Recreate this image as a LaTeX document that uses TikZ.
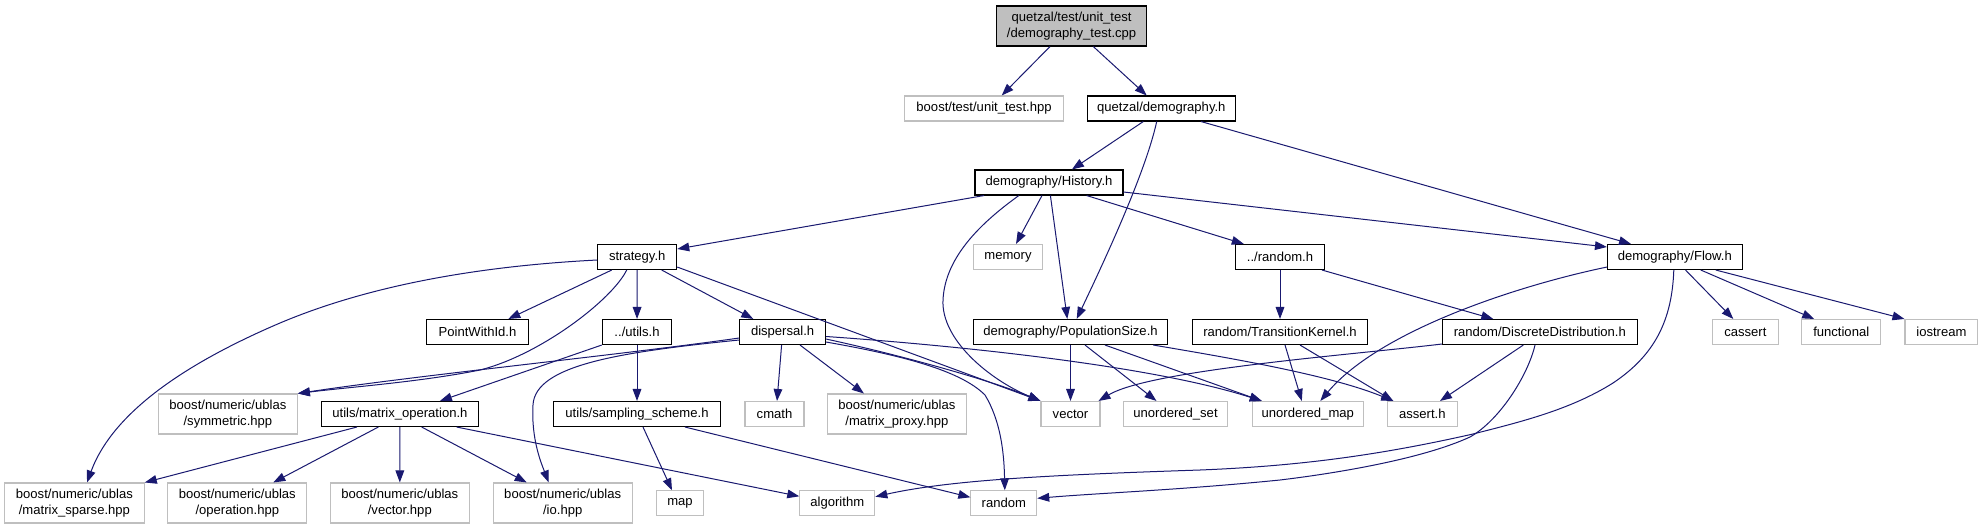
\documentclass[tikz,border=0pt]{standalone}
\usepackage{fontspec}
\setmainfont{Liberation Sans}
\usetikzlibrary{arrows.meta,calc}
\definecolor{edgeblue}{HTML}{191970}
\definecolor{extgray}{HTML}{BFBFBF}
\begin{document}
\begin{tikzpicture}[x=0.75pt,y=-0.75pt,
  base/.style={rectangle, inner sep=0pt, minimum height=18.75pt, align=center,
    font=\fontsize{9.8pt}{11.5pt}\selectfont, line width=0.8pt},
  int/.style={base, draw=black, fill=white},
  ext/.style={base, draw=extgray, fill=white},
  two/.style={minimum height=30pt},
  bw/.style={minimum width=#1*0.75pt},
  e/.style={draw=edgeblue, line width=0.75pt, -{Triangle[length=9pt,width=6.5pt]}}]
\fill[white] (0,0) rectangle (1983,529);
\useasboundingbox (0,0) rectangle (1983,529);

% nodes
\node[int, two, bw=150.3, fill=extgray] (root) at (1071.6,26) {quetzal/test/unit\_test\\/demography\_test.cpp};
\node[ext, bw=159] (unit) at (984,108.5) {boost/test/unit\_test.hpp};
\node[int, bw=148] (qdem) at (1161.3,108.5) {quetzal/demography.h};
\node[int, bw=148] (hist) at (1049,182.5) {demography/History.h};
\node[int, bw=79] (strat) at (637.2,257) {strategy.h};
\node[ext, bw=69.4] (mem) at (1008,257) {memory};
\node[int, bw=88.4] (rnd) at (1280,257) {../random.h};
\node[int, bw=134.6] (flow) at (1674.8,257) {demography/Flow.h};
\node[int, bw=101.6] (pwid) at (477.5,332) {PointWithId.h};
\node[int, bw=69.5] (utils) at (637,332) {../utils.h};
\node[int, bw=85.7] (disp) at (782.6,332) {dispersal.h};
\node[int, bw=194.4] (pops) at (1070.5,332) {demography/PopulationSize.h};
\node[int, bw=174.6] (tk) at (1280,332) {random/TransitionKernel.h};
\node[int, bw=195] (dd) at (1539.8,332) {random/DiscreteDistribution.h};
\node[ext, bw=66] (cassert) at (1745.3,332) {cassert};
\node[ext, bw=78.8] (functional) at (1841.2,332) {functional};
\node[ext, bw=72.8] (iostream) at (1941.4,332) {iostream};
\node[ext, two, bw=138.8] (sym) at (227.9,414) {boost/numeric/ublas\\/symmetric.hpp};
\node[int, bw=157.7] (mop) at (399.9,414) {utils/matrix\_operation.h};
\node[int, bw=167.4] (samp) at (637,414) {utils/sampling\_scheme.h};
\node[ext, bw=59] (cmath) at (774.5,414) {cmath};
\node[ext, two, bw=138.3] (mproxy) at (896.9,414) {boost/numeric/ublas\\/matrix\_proxy.hpp};
\node[ext, bw=59] (vector) at (1070.5,414) {vector};
\node[ext, bw=104.4] (uset) at (1175.5,414) {unordered\_set};
\node[ext, bw=111] (umap) at (1307.8,414) {unordered\_map};
\node[ext, bw=70] (asserth) at (1422.3,414) {assert.h};
\node[ext, two, bw=139.7] (msparse) at (74.4,503) {boost/numeric/ublas\\/matrix\_sparse.hpp};
\node[ext, two, bw=138.8] (oper) at (237.3,503) {boost/numeric/ublas\\/operation.hpp};
\node[ext, two, bw=138.8] (vecthpp) at (399.8,503) {boost/numeric/ublas\\/vector.hpp};
\node[ext, two, bw=138.8] (io) at (562.7,503) {boost/numeric/ublas\\/io.hpp};
\node[ext, bw=46.5] (map) at (680,503.3) {map};
\node[ext, bw=75] (algo) at (837.3,503.3) {algorithm};
\node[ext, bw=65.8] (random) at (1003.8,503.3) {random};

% edges from root / demography.h
\draw[e] ($(root.south)+(-21.6,0)$) -- ($(unit.north)+(17.7,0)$);
\draw[e] ($(root.south)+(21.7,0)$) -- ($(qdem.north)+(-14.6,0)$);
\draw[e] ($(qdem.south)+(-18,0)$) -- ($(hist.north)+(22.9,0)$);
\draw[e] ($(qdem.south)+(-4.6,0)$) .. controls (1145,175) and (1100,270) .. ($(pops.north)+(6.2,0)$);
\draw[e] ($(qdem.south)+(39.7,0)$) -- ($(flow.north)+(-43.8,0)$);

% History.h
\draw[e] ($(hist.south)+(-65,0)$) -- ($(strat.east)+(0,-8)$);
\draw[e] ($(hist.south)+(-30.2,0)$) .. controls (985,220) and (945,255) .. (943,300)
   .. controls (941,340) and (990,380) .. (vector.north west);
\draw[e] ($(hist.south)+(-7,0)$) -- ($(mem.north)+(8,0)$);
\draw[e] ($(hist.south)+(1.4,0)$) -- ($(pops.north)+(-3.2,0)$);
\draw[e] ($(hist.south)+(37.6,0)$) -- ($(rnd.north)+(-36.2,0)$);
\draw[e] ($(hist.east)+(0,9.5)$) -- ($(flow.west)+(0,-10)$);

% ../random.h
\draw[e] (rnd) -- (tk);
\draw[e] ($(rnd.south)+(42,0)$) -- ($(dd.north)+(-46.5,0)$);

% Flow.h
\draw[e] ($(flow.south west)+(0,-3)$) .. controls (1520,285) and (1380,330) .. ($(umap.north)+(12.5,0)$);
\draw[e] ($(flow.south)+(-1,0)$) .. controls (1672,320) and (1655,355) .. (1613,383)
   .. controls (1570,410) and (1520,422) .. (1473,434)
   .. controls (1380,455) and (1300,466) .. (1200,470)
   .. controls (1050,475) and (950,480) .. ($(algo.east)+(0,-6.6)$);
\draw[e] ($(flow.south)+(10.7,0)$) -- ($(cassert.north)+(-12,0)$);
\draw[e] ($(flow.south)+(26,0)$) -- ($(functional.north)+(-27,0)$);
\draw[e] ($(flow.south)+(41,0)$) -- (iostream.north west);

% strategy.h
\draw[e] ($(strat.west)+(0,3)$) .. controls (480,266) and (370,285) .. (280,323)
   .. controls (170,370) and (110,420) .. ($(msparse.north)+(12.6,0)$);
\draw[e] ($(strat.south)+(-25.5,0)$) -- ($(pwid.north)+(30.8,0)$);
\draw[e] ($(strat.south)+(-10.5,0)$) .. controls (612,300) and (540,355) .. (480,370)
   .. controls (420,382) and (350,387) .. (sym.north east);
\draw[e] (strat) -- (utils);
\draw[e] ($(strat.south)+(24.5,0)$) -- ($(disp.north)+(-29.3,0)$);
\draw[e] ($(strat.south east)+(0,-3)$) -- (vector.north west);

% ../utils.h
\draw[e] (utils.south west) -- ($(mop.north)+(40,0)$);
\draw[e] (utils) -- (samp);

% dispersal.h
\draw[e] ($(disp.west)+(0,6)$) .. controls (620,355) and (420,375) .. (sym.north east);
\draw[e] ($(disp.west)+(0,8)$) .. controls (620,352) and (535,365) .. (533,405)
   .. controls (531,440) and (542,465) .. ($(io.north)+(-14,0)$);
\draw[e] ($(disp.south)+(-1,0)$) -- ($(cmath.north)+(2.5,0)$);
\draw[e] ($(disp.south)+(17.4,0)$) -- ($(mproxy.north)+(-33,0)$);
\draw[e] ($(disp.east)+(0,7)$) .. controls (900,355) and (990,380) .. (vector.north west);
\draw[e] ($(disp.east)+(0,10)$) .. controls (900,355) and (960,370) .. (985,395)
   .. controls (1000,420) and (1004,450) .. ($(random.north)+(1,0)$);
\draw[e] ($(disp.east)+(0,4.5)$) .. controls (950,345) and (1150,365) .. ($(umap.north)+(-46,0)$);

% PopulationSize.h
\draw[e] (pops) -- (vector);
\draw[e] ($(pops.south)+(14.5,0)$) -- ($(uset.north)+(-19,0)$);
\draw[e] ($(pops.south)+(34.5,0)$) -- ($(umap.north)+(-46,0)$);
\draw[e] ($(pops.south)+(82.8,0)$) .. controls (1230,358) and (1330,375) .. ($(asserth.north)+(-29,0)$);

% TransitionKernel.h
\draw[e] ($(tk.south)+(5,0)$) -- ($(umap.north)+(-6,0)$);
\draw[e] ($(tk.south)+(20,0)$) -- ($(asserth.north)+(-29,0)$);

% DiscreteDistribution.h
\draw[e] ($(dd.south west)+(0,-1)$) .. controls (1350,355) and (1150,370) .. ($(vector.north east)+(-2,0)$);
\draw[e] ($(dd.south)+(-16.5,0)$) -- ($(asserth.north)+(17.7,0)$);
\draw[e] ($(dd.south)+(-4.8,0)$) .. controls (1528,375) and (1500,420) .. (1470,437)
   .. controls (1420,460) and (1330,474) .. (1280,480)
   .. controls (1180,490) and (1100,493) .. ($(random.east)+(0,-5)$);

% matrix_operation.h
\draw[e] ($(mop.south)+(-43,0)$) -- (msparse.north east);
\draw[e] ($(mop.south)+(-21.6,0)$) -- ($(oper.north)+(36,0)$);
\draw[e] (mop) -- (vecthpp);
\draw[e] ($(mop.south)+(21.8,0)$) -- ($(io.north)+(-36,0)$);
\draw[e] ($(mop.south)+(56.8,0)$) -- ($(algo.west)+(0,-7)$);

% sampling_scheme.h
\draw[e] ($(samp.south)+(6,0)$) -- ($(map.north)+(-8,0)$);
\draw[e] ($(samp.south)+(48,0)$) -- ($(random.west)+(0,-6)$);
\end{tikzpicture}
\end{document}
